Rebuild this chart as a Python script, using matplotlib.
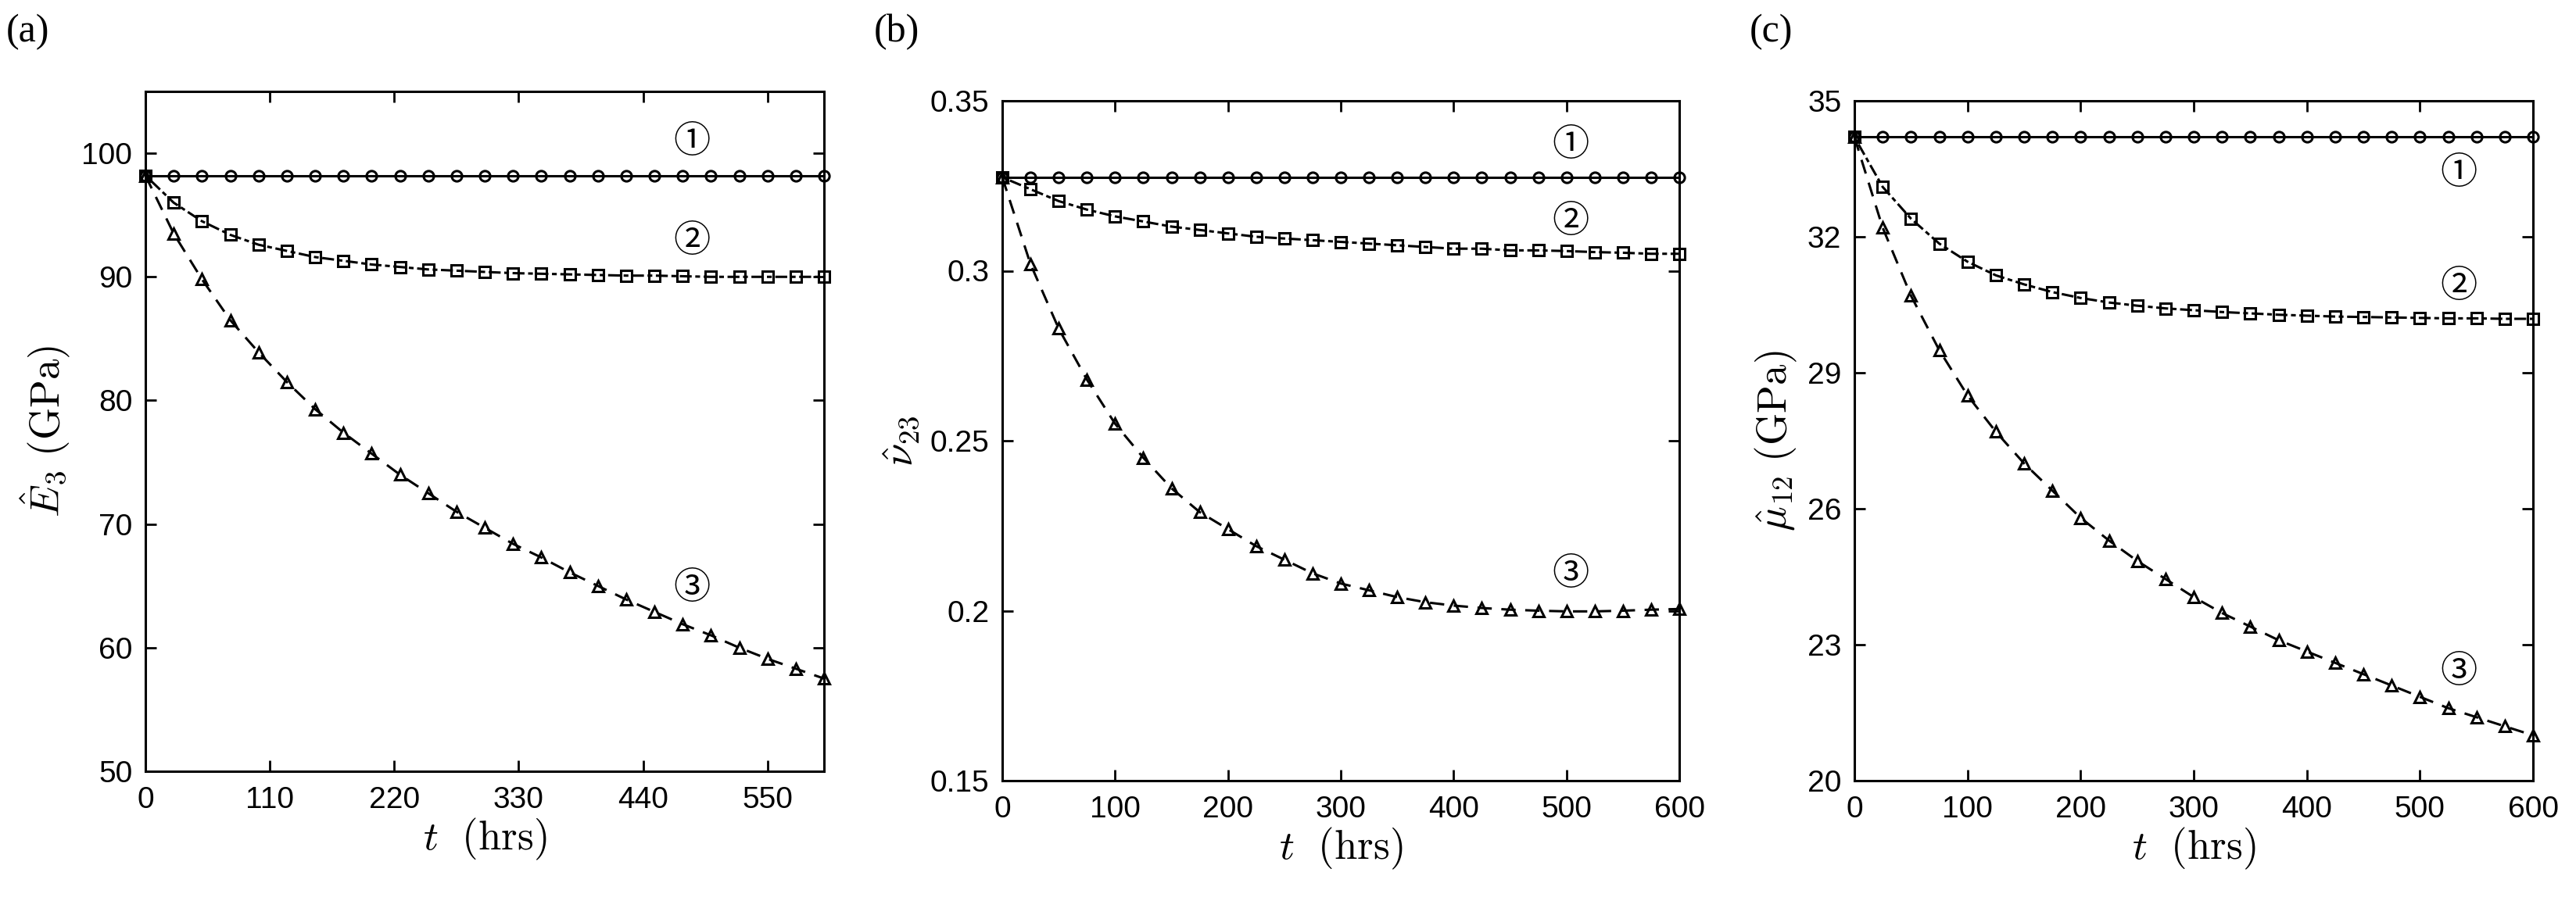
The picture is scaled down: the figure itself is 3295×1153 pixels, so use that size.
import numpy as np
import matplotlib
matplotlib.use("Agg")
import matplotlib.pyplot as plt

plt.rcParams['mathtext.fontset'] = 'cm'
plt.rcParams['font.family'] = ['Liberation Sans', 'DejaVu Sans']

t = np.arange(0, 601, 25)

E1 = [98.2] * 25
E2 = [98.2, 96.0, 94.5, 93.4, 92.6, 92.1, 91.6, 91.3, 91.0, 90.8, 90.6, 90.5, 90.4, 90.3,
      90.25, 90.2, 90.15, 90.1, 90.1, 90.05, 90.0, 90.0, 90.0, 90.0, 90.0]
E3 = [98.2, 93.5, 89.8, 86.5, 83.9, 81.5, 79.3, 77.4, 75.7, 74.0, 72.5, 71.0, 69.7, 68.4,
      67.3, 66.1, 65.0, 63.9, 62.9, 61.9, 61.0, 60.0, 59.1, 58.3, 57.5]

N1 = [0.3275] * 25
N2 = [0.3275, 0.324, 0.3205, 0.318, 0.316, 0.3145, 0.313, 0.312, 0.311, 0.310, 0.3095, 0.309,
      0.3085, 0.308, 0.3075, 0.307, 0.3065, 0.3065, 0.306, 0.306, 0.3058, 0.3055, 0.3053, 0.305, 0.305]
N3 = [0.3275, 0.302, 0.283, 0.268, 0.255, 0.245, 0.236, 0.229, 0.224, 0.219, 0.215, 0.211,
      0.208, 0.206, 0.204, 0.2025, 0.2015, 0.2008, 0.2003, 0.2, 0.1998, 0.1998, 0.2, 0.2003, 0.2005]

M1 = [34.2] * 25
M2 = [34.2, 33.1, 32.4, 31.85, 31.45, 31.15, 30.95, 30.78, 30.65, 30.55, 30.48, 30.42, 30.38,
      30.34, 30.31, 30.28, 30.26, 30.24, 30.23, 30.22, 30.21, 30.2, 30.2, 30.19, 30.19]
M3 = [34.2, 32.2, 30.7, 29.5, 28.5, 27.7, 27.0, 26.4, 25.8, 25.3, 24.85, 24.45, 24.05, 23.7,
      23.4, 23.1, 22.85, 22.6, 22.35, 22.1, 21.85, 21.6, 21.4, 21.2, 21.0]

panels = [
    dict(s=(E1, E2, E3), ylim=(50, 105), yt=[50, 60, 70, 80, 90, 100], ytl=None,
         xt=[0, 110, 220, 330, 440, 550], ylabel=r'$\hat{E}_3\ \mathrm{(GPa)}$', tag='(a)',
         ann=[(483, 100.9), (483, 92.9), (483, 64.8)]),
    dict(s=(N1, N2, N3), ylim=(0.15, 0.35), yt=[0.15, 0.2, 0.25, 0.3, 0.35],
         ytl=['0.15', '0.2', '0.25', '0.3', '0.35'],
         xt=[0, 100, 200, 300, 400, 500, 600], ylabel=r'$\hat{\nu}_{23}$', tag='(b)',
         ann=[(504, 0.337), (504, 0.3144), (504, 0.2107)]),
    dict(s=(M1, M2, M3), ylim=(20, 35), yt=[20, 23, 26, 29, 32, 35], ytl=None,
         xt=[0, 100, 200, 300, 400, 500, 600], ylabel=r'$\hat{\mu}_{12}\ \mathrm{(GPa)}$', tag='(c)',
         ann=[(534, 33.4), (534, 30.9), (534, 22.4)]),
]

W, H = 3295, 1153
fig = plt.figure(figsize=(W / 100, H / 100), dpi=100)
boxes = [(186, 1054, 117, 987), (1282, 2148, 129, 999), (2372, 3240, 129, 999)]
tagx = [8, 1118, 2238]
styles = [('-', 'o'), ((0, (2, 1.5, 5, 1.5)), 's'), ((0, (6, 4)), '^')]
labels = ['①', '②', '③']
for i, p in enumerate(panels):
    l, r, tp, b = boxes[i]
    ax = fig.add_axes([l / W, 1 - b / H, (r - l) / W, (b - tp) / H])
    for (ls, mk), y in zip(styles, p['s']):
        ax.plot(t, y, color='black', linestyle=ls, linewidth=2.2, marker=mk,
                markersize=9.5, markerfacecolor='none', markeredgewidth=2.2, clip_on=False)
    ax.set_xlim(0, 600)
    ax.set_ylim(*p['ylim'])
    ax.set_xticks(p['xt'])
    ax.set_yticks(p['yt'])
    if p['ytl']:
        ax.set_yticklabels(p['ytl'])
    ax.tick_params(direction='in', top=True, right=True, labelsize=28, length=10, width=2)
    ax.tick_params(axis='x', pad=14)
    ax.tick_params(axis='y', pad=12)
    for sp in ax.spines.values():
        sp.set_linewidth(2.2)
    ax.set_xlabel(r'$t\ \ \mathrm{(hrs)}$', fontsize=38, labelpad=2)
    ax.set_ylabel(p['ylabel'], fontsize=38, labelpad=8)
    for lab, (x, y) in zip(labels, p['ann']):
        ax.text(x, y, lab, fontsize=34, ha='center', va='center',
                family=['Noto Sans CJK SC', 'DejaVu Sans'])
    fig.text(tagx[i] / W, 1 - 18 / H, p['tag'], fontsize=36, family='Liberation Serif',
             ha='left', va='top')

fig.savefig('out.png', dpi=100)
